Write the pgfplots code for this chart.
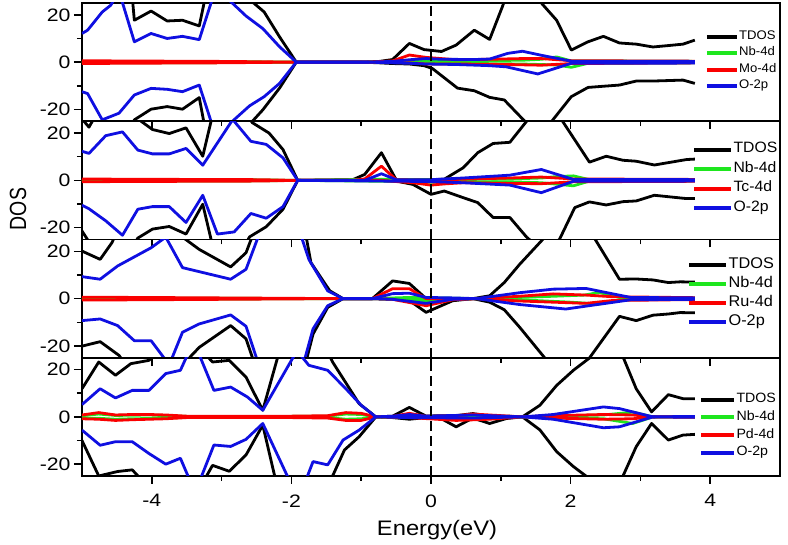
\documentclass[border=0pt]{standalone}
\usepackage{graphicx}
\usepackage{pgfplots}
\pgfplotsset{compat=1.18}
\usepackage{fontspec}
\setmainfont{Liberation Sans}
\definecolor{cT}{RGB}{0,0,0}
\definecolor{cN}{RGB}{30,230,30}
\definecolor{cX}{RGB}{250,0,0}
\definecolor{cO}{RGB}{15,15,225}
\newcommand{\hs}[1]{\scalebox{1.18}[1]{#1}}
\newcommand{\ls}[1]{\scalebox{1.05}[1]{#1}}
\pgfplotsset{
 lT/.style={draw=cT, line width=2.8pt, line join=round},
 lN/.style={draw=cN, line width=2.8pt, line join=round},
 lX/.style={draw=cX, line width=2.8pt, line join=round},
 lO/.style={draw=cO, line width=2.8pt, line join=round},
 zeroline/.style={draw=black, line width=2.2pt, dash pattern=on 10pt off 5pt, forget plot},
 dospanel/.style={
  scale only axis, width=698pt, height=118.25pt,
  xmin=-5, xmax=5, ymin=-25, ymax=25,
  xtick={-4,-2,0,2,4}, minor xtick={-3,-1,1,3},
  ytick={-20,0,20}, yticklabels={\hs{-20},\hs{0},\hs{20}}, minor ytick={-10,10},
  xtick pos=left, ytick pos=left, tick align=outside,
  major tick length=8pt, minor tick length=5pt,
  every tick/.style={black, line width=1.5pt},
  axis line style={line width=1.6pt},
  tick label style={font=\fontsize{18}{20}\selectfont},
  legend cell align=left,
 },
}
\begin{document}
\begin{tikzpicture}
\useasboundingbox (-82pt,3pt) rectangle (706pt,-542pt);
% ---------------- panel 1 : Mo ----------------
\begin{axis}[dospanel, at={(0pt,0pt)}, anchor=north west, xticklabels={},
  legend image code/.code={\draw[#1] (0pt,0.5pt) -- (30pt,0.5pt);\draw[#1] (0pt,-0.5pt) -- (30pt,-0.5pt);},
  legend style={draw=none, fill=none, at={(axis cs:3.93,14.2)}, anchor=north west,
   font=\fontsize{12.5}{14}\selectfont, inner sep=0pt, row sep=0pt,
   nodes={inner sep=0.8pt, text height=10pt, text depth=4.8pt}}]
\addplot[lT] coordinates {(-5,60) (-4.47,90) (-4.25,17.7) (-4.01,21.6) (-3.78,17.4) (-3.56,17.7) (-3.32,15.3) (-3.13,42) (-2.92,45) (-2.62,27) (-2.39,21.2) (-2.17,10.7) (-1.93,0) (-1.0,0) (-0.74,0.3) (-0.55,1.1) (-0.31,7.9) (-0.1,5.3) (0.15,4.5) (0.36,7.2) (0.62,13.5) (0.84,9.6) (1.03,24) (1.2,40) (1.37,32) (1.80,17.7) (2.01,5.1) (2.25,8.6) (2.47,10.9) (2.70,8.1) (2.94,7.6) (3.18,6.4) (3.4,7) (3.61,7.6) (3.78,9.3)};
\addlegendentry{\ls{TDOS}}
\addplot[lT, forget plot] coordinates {(-5,-60) (-4.47,-40) (-4.25,-24.4) (-4.01,-19.9) (-3.78,-18.8) (-3.56,-19.9) (-3.32,-15) (-3.13,-45) (-2.92,-45) (-2.62,-27) (-2.41,-20.2) (-2.17,-11) (-1.93,0) (-1.0,0) (-0.74,-0.3) (-0.55,-0.6) (-0.31,-0.8) (-0.1,-1.5) (0.02,-2.7) (0.38,-11) (0.62,-12.1) (0.84,-14.9) (1.05,-16) (1.37,-25.8) (1.55,-32) (1.73,-25) (2.01,-14.6) (2.25,-10.7) (2.47,-10.2) (2.70,-9.7) (2.94,-8) (3.18,-8) (3.4,-7.8) (3.61,-7.6) (3.78,-9)};
\addplot[lN] coordinates {(-5,0.3) (-3,0.2) (-1.93,0) (-0.9,0) (-0.31,0.5) (0.36,0.5) (1.31,0.8) (1.58,1.2) (1.8,2.2) (2.01,0.5) (3.78,0.3)};
\addlegendentry{\ls{Nb-4d}}
\addplot[lN, forget plot] coordinates {(-5,-0.3) (-3,-0.2) (-1.93,0) (-0.9,0) (-0.31,-0.3) (0.36,-0.5) (1.31,-0.8) (1.8,-1.2) (2.01,-2.2) (2.25,-0.5) (3.78,-0.3)};
\addplot[lX] coordinates {(-5,0.6) (-4.5,0.5) (-3,0.3) (-1.93,0) (-0.9,0) (-0.55,0.5) (-0.31,3) (-0.07,2) (0.36,1) (0.84,1.2) (1.31,1.5) (1.58,1.5) (2.01,0.6) (3.78,0.4)};
\addlegendentry{\ls{Mo-4d}}
\addplot[lX, forget plot] coordinates {(-5,-0.6) (-4.5,-0.5) (-3,-0.3) (-1.93,0) (-0.9,0) (-0.31,-0.3) (-0.07,-0.8) (0.36,-0.8) (1.08,-1) (1.58,-1.3) (2.01,-0.6) (3.78,-0.3)};
\addplot[lO] coordinates {(-5,12.1) (-4.92,13.5) (-4.71,21.2) (-4.59,24) (-4.47,30) (-4.25,8.6) (-4.01,12.1) (-3.78,10) (-3.56,10.9) (-3.32,9.5) (-3.13,27) (-2.92,27) (-2.65,19.5) (-2.41,14.2) (-2.17,6.5) (-1.93,0) (-0.9,0) (-0.55,0.3) (-0.31,1) (-0.07,1.5) (0.15,1.2) (0.62,1.1) (0.84,1.3) (1.1,3.7) (1.31,4.6) (1.58,2.9) (2.01,0.4) (3.78,0.3)};
\addlegendentry{\ls{O-2p}}
\addplot[lO, forget plot] coordinates {(-5,-12.5) (-4.92,-13.3) (-4.71,-24.4) (-4.47,-21.6) (-4.25,-13.9) (-4.01,-11.1) (-3.78,-11.5) (-3.56,-12.5) (-3.32,-9.7) (-3.13,-27) (-2.92,-27) (-2.6,-18.5) (-2.39,-14.6) (-2.17,-9) (-1.93,0) (-0.9,0) (-0.31,-0.5) (-0.07,-0.8) (0.36,-1) (0.84,-1.5) (1.08,-2) (1.53,-5) (2.01,-0.5) (3.78,-0.4)};
\addplot[zeroline] coordinates {(0,-25) (0,25)};
\end{axis}
% ---------------- panel 2 : Tc ----------------
\begin{axis}[dospanel, at={(0pt,-118.25pt)}, anchor=north west, xticklabels={},
  legend image code/.code={\draw[#1] (0pt,0.5pt) -- (37pt,0.5pt);\draw[#1] (0pt,-0.5pt) -- (37pt,-0.5pt);},
  legend style={draw=none, fill=none, at={(axis cs:3.75,17.1)}, anchor=north west,
   font=\fontsize{15}{16}\selectfont, inner sep=0pt, row sep=0pt,
   nodes={inner sep=0.8pt, text height=12pt, text depth=5.8pt}}]
\addplot[lT] coordinates {(-5,26) (-4.9,22.5) (-4.66,35) (-4.42,40) (-4.2,26) (-3.99,21.5) (-3.75,19.8) (-3.51,22.2) (-3.27,10.2) (-3.03,40) (-2.8,35) (-2.56,24.4) (-2.32,20) (-2.12,13) (-1.91,0) (-1.12,0.3) (-0.95,2.5) (-0.71,11.7) (-0.5,0.3) (-0.26,0.3) (0,0.3) (0.19,0.5) (0.46,5.3) (0.67,11.7) (0.89,15.6) (1.13,16.1) (1.37,25) (1.6,40) (1.84,27) (2.27,7.7) (2.51,10.2) (2.75,8.5) (2.94,8.1) (3.2,6.5) (3.66,8.8) (3.78,9)};
\addlegendentry{\ls{TDOS}}
\addplot[lT, forget plot] coordinates {(-5,-21.4) (-4.9,-26) (-4.66,-35) (-4.42,-35) (-4.2,-24.4) (-3.99,-20.6) (-3.75,-19.5) (-3.51,-22.7) (-3.27,-10.1) (-3.03,-40) (-2.8,-35) (-2.6,-23.9) (-2.36,-19.6) (-2.12,-12.2) (-1.91,0) (-1.12,0) (-0.71,0) (-0.5,-0.3) (-0.26,-1.7) (0,-5.9) (0.19,-4.5) (0.46,-7.3) (0.67,-9.4) (0.89,-15.7) (1.13,-15.7) (1.37,-24) (1.6,-30) (1.84,-25) (2.06,-11.5) (2.27,-9.1) (2.51,-10.4) (2.75,-9) (2.94,-8.7) (3.2,-6.3) (3.66,-7.7) (3.78,-7.7)};
\addplot[lN] coordinates {(-5,0.3) (-2.5,0.2) (-1.91,0) (-0.71,0.5) (0,0.2) (1.13,0.6) (1.58,1) (1.8,1.6) (2.04,1.9) (2.27,0.3) (3.78,0.2)};
\addlegendentry{\ls{Nb-4d}}
\addplot[lN, forget plot] coordinates {(-5,-0.3) (-2.5,-0.2) (-1.91,0) (-0.26,-0.5) (0,-0.8) (1.13,-0.6) (1.58,-1) (1.8,-1.6) (2.04,-2.3) (2.27,-0.3) (3.78,-0.2)};
\addplot[lX] coordinates {(-5,0.6) (-4.5,0.5) (-2.5,0.3) (-1.91,0) (-1.12,0) (-0.95,0.6) (-0.71,6) (-0.5,0.3) (0,0) (0.46,0.5) (1.13,1) (1.58,1.4) (2.04,0.6) (3.78,0.4)};
\addlegendentry{\ls{Tc-4d}}
\addplot[lX, forget plot] coordinates {(-5,-0.6) (-4.5,-0.5) (-2.5,-0.3) (-1.91,0) (-0.71,0) (-0.5,-0.5) (-0.26,-1) (0,-2) (0.19,-1.5) (0.46,-1) (1.13,-1.3) (1.58,-1.4) (2.04,-0.6) (3.78,-0.4)};
\addplot[lO] coordinates {(-5,12.3) (-4.9,11.4) (-4.66,18.9) (-4.42,20.5) (-4.2,12.8) (-3.99,11.2) (-3.75,11.2) (-3.51,13.5) (-3.27,6.4) (-2.84,25.7) (-2.58,16.5) (-2.36,15.2) (-2.12,9.5) (-1.91,0) (-0.95,0) (-0.71,2.8) (-0.5,0.3) (0,0.3) (0.46,1) (1.13,2.2) (1.58,4.6) (2.04,0.4) (3.78,0.3)};
\addlegendentry{\ls{O-2p}}
\addplot[lO, forget plot] coordinates {(-5,-10.5) (-4.9,-12) (-4.66,-17.1) (-4.42,-23.2) (-4.2,-12.2) (-3.99,-11.1) (-3.75,-11.1) (-3.51,-17.8) (-3.27,-6.3) (-3.06,-22.7) (-2.82,-21.8) (-2.58,-14) (-2.36,-16) (-2.12,-11.1) (-1.91,0) (-0.71,-0.3) (0,-0.5) (0.46,-1) (1.13,-2) (1.58,-5.2) (2.04,-0.4) (3.78,-0.3)};
\addplot[zeroline] coordinates {(0,-25) (0,25)};
\end{axis}
% ---------------- panel 3 : Ru ----------------
\begin{axis}[dospanel, at={(0pt,-236.5pt)}, anchor=north west, xticklabels={},
  legend image code/.code={\draw[#1] (0pt,0.5pt) -- (37pt,0.5pt);\draw[#1] (0pt,-0.5pt) -- (37pt,-0.5pt);},
  legend style={draw=none, fill=none, at={(axis cs:3.68,18.15)}, anchor=north west,
   font=\fontsize{15.5}{16}\selectfont, inner sep=0pt, row sep=0pt,
   nodes={inner sep=0.8pt, text height=12pt, text depth=5.4pt}}]
\addplot[lT] coordinates {(-5,20.1) (-4.74,16.6) (-4.57,23.7) (-4.4,35) (-3.8,40) (-3.56,26) (-3.32,20.8) (-2.87,13.4) (-2.65,19.4) (-2.45,35) (-2.0,60) (-1.72,15.2) (-1.45,3.3) (-1.26,0) (-0.84,0) (-0.55,7.5) (-0.31,6.4) (-0.07,0) (0.31,0) (0.6,0) (0.84,1.2) (1.05,6.8) (1.27,14.5) (1.6,25) (1.9,35) (2.25,30) (2.7,8.2) (2.94,8.3) (3.18,7.9) (3.4,6.8) (3.57,7.1) (3.78,7)};
\addlegendentry{\ls{TDOS}}
\addplot[lT, forget plot] coordinates {(-5,-20.1) (-4.74,-18.2) (-4.47,-24) (-4.2,-35) (-3.6,-30) (-3.43,-24) (-3.32,-20.6) (-2.87,-11.4) (-2.65,-17) (-2.5,-30) (-1.95,-45) (-1.69,-15) (-1.48,-3.7) (-1.26,0) (-0.84,0) (-0.55,-0.3) (-0.31,-0.8) (-0.07,-5.8) (0.31,-0.9) (0.6,0) (0.84,-1.5) (1.05,-4.7) (1.27,-12.1) (1.6,-24) (1.9,-35) (2.15,-30) (2.7,-7.5) (2.94,-9.3) (3.18,-7) (3.4,-6.5) (3.57,-5.9) (3.78,-6)};
\addplot[lN] coordinates {(-5,0.3) (-1.26,0) (-0.84,0) (-0.31,0.5) (0.65,0) (1.27,0.5) (1.75,1) (2.2,1.5) (2.41,2.6) (2.7,0.5) (3.78,0.2)};
\addlegendentry{\ls{Nb-4d}}
\addplot[lN, forget plot] coordinates {(-5,-0.3) (-1.26,0) (-0.84,0) (-0.07,-0.8) (0.65,0) (1.27,-0.5) (2.0,-1.5) (2.41,-2.3) (2.7,-0.5) (3.78,-0.2)};
\addplot[lX] coordinates {(-5,0.6) (-4.2,0.5) (-3,0.3) (-1.26,0) (-0.84,0) (-0.55,4.2) (-0.31,4.2) (-0.07,0) (0.65,0) (1.27,1) (1.75,2) (2.22,1.5) (2.6,0.8) (3.78,0.4)};
\addlegendentry{\ls{Ru-4d}}
\addplot[lX, forget plot] coordinates {(-5,-0.6) (-4.2,-0.5) (-3,-0.3) (-1.26,0) (-0.84,0) (-0.55,-0.3) (-0.07,-3) (0.31,-0.5) (0.65,0) (1.27,-1) (1.75,-1.5) (2.22,-2) (2.6,-0.8) (3.78,-0.4)};
\addplot[lO] coordinates {(-5,9.3) (-4.74,8.2) (-4.49,13.8) (-4.01,21.5) (-3.8,26) (-3.56,13.1) (-2.87,8.2) (-2.65,12.4) (-2.49,25) (-2.2,40) (-1.9,30) (-1.75,16.6) (-1.48,3.3) (-1.26,0) (-0.84,0) (-0.55,2.1) (-0.31,2.3) (-0.07,0.5) (0.31,0.3) (0.65,0) (1.27,2.5) (1.75,4) (2.22,4.3) (2.86,0.5) (3.78,0.3)};
\addlegendentry{\ls{O-2p}}
\addplot[lO, forget plot] coordinates {(-5,-9.3) (-4.74,-8.6) (-4.49,-11.4) (-4.25,-17.8) (-4.01,-17.8) (-3.75,-28) (-3.56,-14.2) (-3.32,-10.7) (-2.87,-6.9) (-2.65,-11.7) (-2.49,-26) (-1.85,-30) (-1.69,-12.8) (-1.48,-3) (-1.26,0) (-0.84,0) (-0.55,-0.3) (-0.07,-2) (0.31,-0.3) (0.65,0) (1.27,-2.5) (1.93,-4.4) (2.86,-0.5) (3.78,-0.3)};
\addplot[zeroline] coordinates {(0,-25) (0,25)};
\end{axis}
% ---------------- panel 4 : Pd ----------------
\begin{axis}[dospanel, at={(0pt,-354.75pt)}, anchor=north west,
  xticklabels={\hs{-4},\hs{-2},\hs{0},\hs{2},\hs{4}},
  xticklabel style={yshift=-7pt},
  xlabel={\scalebox{1.13}[1]{Energy(eV)}},
  xlabel style={font=\fontsize{21}{23}\selectfont, yshift=-6pt, xshift=6pt},
  legend image code/.code={\draw[#1] (0pt,0.5pt) -- (33pt,0.5pt);\draw[#1] (0pt,-0.5pt) -- (33pt,-0.5pt);},
  legend style={draw=none, fill=none, at={(axis cs:3.85,11.1)}, anchor=north west,
   font=\fontsize{13.5}{14}\selectfont, inner sep=0pt, row sep=0pt,
   nodes={inner sep=0.8pt, text height=11pt, text depth=5.1pt}}]
\addplot[lT] coordinates {(-5,11.9) (-4.76,23.2) (-4.52,17.6) (-4.3,22.5) (-4.04,23.9) (-3.8,30) (-3.5,35) (-3.13,23.2) (-2.89,23.9) (-2.65,16.8) (-2.41,2.8) (-2.17,28) (-1.9,40) (-1.6,35) (-1.41,23.2) (-1.03,5.6) (-0.79,0) (-0.55,0.3) (-0.31,4) (-0.07,0.3) (0.12,0.5) (0.36,0.5) (0.6,1.4) (0.84,0.3) (1.08,0.3) (1.31,0) (1.56,4.9) (1.8,13.3) (2.04,19.7) (2.32,26) (2.5,35) (2.7,29) (2.94,11.9) (3.16,2.1) (3.4,9.4) (3.61,7.7) (3.78,7.7)};
\addlegendentry{\ls{TDOS}}
\addplot[lT, forget plot] coordinates {(-5,-10) (-4.76,-25) (-4.49,-23.1) (-4.28,-22.4) (-4.04,-30) (-3.5,-40) (-3.13,-20.5) (-2.89,-23) (-2.65,-16.1) (-2.41,-3.5) (-2.2,-30) (-1.8,-40) (-1.41,-25) (-1.24,-14) (-1.03,-8.4) (-0.79,0) (-0.55,-0.3) (-0.31,-1) (-0.07,-0.3) (0.12,-0.3) (0.36,-4.2) (0.6,-0.5) (0.84,-2.8) (1.08,-0.7) (1.31,0) (1.56,-5.5) (1.8,-14.7) (2.04,-21) (2.22,-25) (2.5,-35) (2.72,-27) (2.94,-12.6) (3.16,-2.8) (3.4,-9.8) (3.61,-7.7) (3.78,-7.4)};
\addplot[lN] coordinates {(-5,0.5) (-4.76,1.2) (-4.52,0.6) (-4.28,0.7) (-4.04,0.8) (-3.8,0.5) (-3.5,0.2) (-2,0.2) (-1.48,0.3) (-1.22,1.2) (-1.0,1) (-0.79,0) (1.31,0) (2.47,0.8) (2.89,2) (3.18,0) (3.78,0.1)};
\addlegendentry{\ls{Nb-4d}}
\addplot[lN, forget plot] coordinates {(-5,-0.5) (-4.76,-0.6) (-4.52,-1) (-4.28,-0.8) (-4.04,-0.7) (-3.8,-0.5) (-3.5,-0.2) (-2,-0.2) (-1.48,-0.3) (-1.22,-1) (-1.0,-0.8) (-0.79,0) (1.31,0) (2.47,-0.8) (2.89,-2.8) (3.18,0) (3.78,-0.1)};
\addplot[lX] coordinates {(-5,0.8) (-4.76,1.8) (-4.52,0.8) (-4.28,1) (-4.04,1) (-3.8,0.8) (-3.5,0.3) (-2,0.3) (-1.48,0.5) (-1.22,1.8) (-1.0,1.5) (-0.79,0) (-0.55,0.2) (-0.31,1.5) (-0.07,0.2) (0.36,0.5) (0.6,1.2) (1.31,0) (1.75,0.5) (2.47,1) (2.89,0.8) (3.18,0) (3.78,0.2)};
\addlegendentry{\ls{Pd-4d}}
\addplot[lX, forget plot] coordinates {(-5,-0.8) (-4.76,-1) (-4.52,-1.5) (-4.28,-1.2) (-4.04,-1) (-3.8,-0.8) (-3.5,-0.3) (-2,-0.3) (-1.48,-0.5) (-1.22,-1.5) (-1.0,-1.5) (-0.79,0) (-0.31,-0.3) (0.36,-1.5) (0.84,-1) (1.31,0) (1.75,-0.5) (2.47,-1) (2.89,-0.8) (3.18,0) (3.78,-0.2)};
\addplot[lO] coordinates {(-5,5.2) (-4.74,11.9) (-4.52,8) (-4.28,11.2) (-4.04,11.2) (-3.8,18.3) (-3.59,19.7) (-3.4,32) (-3.11,11.2) (-2.87,12.6) (-2.63,8.4) (-2.41,2.8) (-1.92,28) (-1.75,21.8) (-1.48,19.7) (-1.22,11.9) (-1.0,4.9) (-0.79,0) (-0.55,0.3) (-0.31,1) (-0.07,0.3) (0.6,0.8) (1.31,0) (1.75,1) (2.47,4.2) (2.7,3.5) (3.18,0) (3.78,0.2)};
\addlegendentry{\ls{O-2p}}
\addplot[lO, forget plot] coordinates {(-5,-5.6) (-4.74,-12) (-4.52,-10.5) (-4.28,-10.5) (-4.04,-15.5) (-3.8,-20) (-3.59,-17.5) (-3.38,-32) (-3.11,-11.9) (-2.87,-12.5) (-2.65,-9.5) (-2.41,-2.8) (-1.9,-35) (-1.69,-18.9) (-1.48,-20.3) (-1.26,-9.8) (-1.03,-5.6) (-0.79,0) (-0.31,-0.3) (0.6,-0.5) (1.31,0) (1.75,-1) (2.47,-4.6) (2.7,-4.2) (3.18,0) (3.78,-0.2)};
\addplot[zeroline] coordinates {(0,-25) (0,25)};
\end{axis}
\node[rotate=90, font=\fontsize{19.5}{22}\selectfont] at (-64pt,-206pt) {\scalebox{1}[1.2]{DOS}};
\end{tikzpicture}
\end{document}
